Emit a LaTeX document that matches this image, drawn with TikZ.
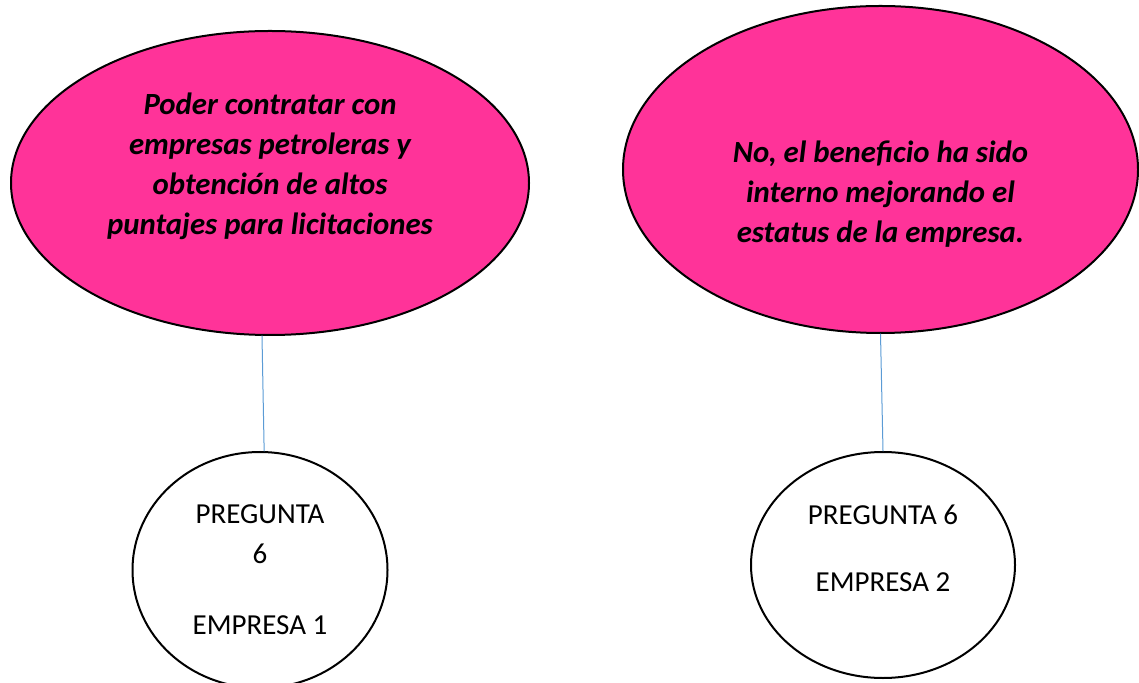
\documentclass[tikz,border=0pt]{standalone}
\usepackage{fontspec}
\setmainfont{Carlito}
\usetikzlibrary{shapes.geometric}
\definecolor{rosa}{HTML}{FF3399}
\definecolor{azul}{HTML}{5B9BD5}
\begin{document}
\begin{tikzpicture}[x=0.5pt,y=-0.5pt,line cap=round,line join=round,
  idea/.style={ellipse,draw=black,line width=1pt,fill=rosa,align=center,inner sep=0pt,
    font=\fontsize{15.4}{20}\selectfont\bfseries\itshape},
  preg/.style={ellipse,draw=black,line width=1pt,fill=white,align=center,inner sep=0pt,
    font=\fontsize{14.5}{20}\selectfont},
  enlace/.style={draw=azul,line width=0.5pt}]
\useasboundingbox (0,0) rectangle (1139,683);
\node[idea,minimum width=259pt,minimum height=152pt] (r1) at (270,183)
  {Poder contratar con\\empresas petroleras y\\obtención de altos\\puntajes para licitaciones\\[-0.5pt]\mbox{}};
\node[idea,minimum width=257.5pt,minimum height=163.5pt] (r2) at (880.5,169.5)
  {\mbox{}\\[15pt]No, el beneficio ha sido\\interno mejorando el\\estatus de la empresa.};
\node[preg,minimum width=127.5pt,minimum height=118pt] (p1) at (260,570)
  {PREGUNTA\\6\\[15.5pt]EMPRESA 1};
\node[preg,minimum width=132pt,minimum height=113pt] (p2) at (883,565)
  {PREGUNTA 6\\[13.5pt]EMPRESA 2\\[-3pt]\mbox{}};
\draw[enlace] (r1.267) -- (p1.88);
\draw[enlace] (r2.south) -- (p2.north);
\end{tikzpicture}
\end{document}
